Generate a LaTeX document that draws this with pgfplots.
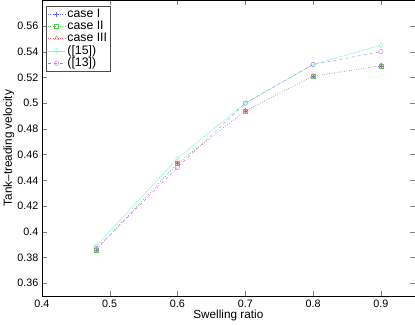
\documentclass[border=0pt]{standalone}
\usepackage{pgfplots}
\pgfplotsset{compat=1.18}
\usepackage{fontspec}
\setmainfont{Liberation Sans}
\definecolor{cI}{rgb}{0.4,0.4,1}
\definecolor{cII}{rgb}{0.35,0.8,0.35}
\definecolor{cIII}{rgb}{1,0.4,0.4}
\definecolor{cref}{rgb}{0.45,1,0.8}
\definecolor{cpur}{rgb}{0.75,0.45,1}
\begin{document}
\begin{tikzpicture}
\begin{axis}[
    scale only axis,
    width=363bp, height=288bp,
    xmin=0.4, xmax=0.95,
    ymin=0.35, ymax=0.58,
    xtick={0.4,0.5,0.6,0.7,0.8,0.9},
    ytick={0.36,0.38,0.4,0.42,0.44,0.46,0.48,0.5,0.52,0.54,0.56},
    yticklabel style={/pgf/number format/.cd,fixed,precision=2},
    xticklabel style={/pgf/number format/.cd,fixed,precision=1},
    /pgf/number format/assume math mode=true,
    tick align=inside,
    major tick length=5pt,
    ticklabel style={font=\fontsize{10.5}{12}\selectfont},
    label style={font=\fontsize{11.5}{13}\selectfont},
    xlabel={Swelling ratio},
    ylabel={Tank--treading velocity},
    xlabel style={yshift=4pt},
    ylabel style={yshift=-4pt},
    legend style={font=\fontsize{12}{14}\selectfont, draw=black!70, inner sep=1pt,
        row sep=-2pt, cells={anchor=west}, at={(0.012,0.98)}, anchor=north west},
    legend cell align=left,
]
\addplot[cI, dotted, mark=+, mark size=2.5pt, mark options={solid}]
coordinates {(0.48,0.386) (0.6,0.453) (0.7,0.494) (0.8,0.521) (0.9,0.529)};
\addlegendentry{case I}
\addplot[cII, dotted, mark=square, mark size=2pt, mark options={solid}]
coordinates {(0.48,0.386) (0.6,0.453) (0.7,0.494) (0.8,0.521) (0.9,0.529)};
\addlegendentry{case II}
\addplot[cIII, dotted, mark=triangle, mark size=2.5pt, mark options={solid}]
coordinates {(0.48,0.386) (0.6,0.453) (0.7,0.494) (0.8,0.521) (0.9,0.529)};
\addlegendentry{case III}
\addplot[cref, solid, mark=diamond, mark size=2.5pt]
coordinates {(0.48,0.389) (0.6,0.457) (0.7,0.500) (0.8,0.530) (0.9,0.545)};
\addlegendentry{([15])}
\addplot[cpur, dashed, mark=o, mark size=2.2pt, mark options={solid}]
coordinates {(0.48,0.387) (0.6,0.450) (0.7,0.500) (0.8,0.530) (0.9,0.540)};
\addlegendentry{([13])}
\end{axis}
\end{tikzpicture}
\end{document}
